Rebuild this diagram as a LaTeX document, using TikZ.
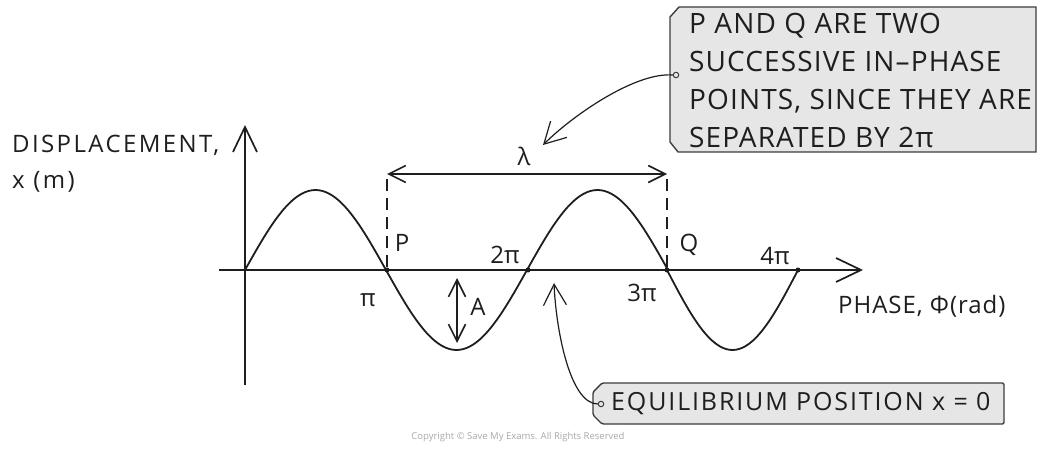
\documentclass[tikz,border=0pt]{standalone}
\usepackage{fontspec}
\setmainfont{Open Sans}
\usetikzlibrary{arrows.meta,positioning,calc}
\definecolor{ink}{HTML}{1E1E1E}
\definecolor{tagfill}{HTML}{E6E6E6}
\definecolor{tagedge}{HTML}{3C3C3C}
\definecolor{notegrey}{HTML}{A8A8A8}

\begin{document}
\begin{tikzpicture}[x=1pt, y=-1pt,
    every node/.style={font=\fontsize{24}{30}\selectfont, text=ink, inner sep=0pt},
    axistext/.style={font=\fontsize{24}{30}\selectfont\addfontfeature{LetterSpace=10}},
    axisarrow/.style={line width=1.7pt, ink, -{Straight Barb[length=25pt, width=24pt]}},
    wave/.style={line width=1.8pt, ink},
    guide/.style={line width=1.6pt, ink, dash pattern=on 12pt off 7pt},
    spanarrow/.style={line width=1.6pt, ink, {Straight Barb[length=17pt, width=17pt]}-{Straight Barb[length=17pt, width=17pt]}},
    pointer/.style={line width=1.2pt, ink, -{Straight Barb[length=21pt, width=23pt]}},
    tagbox/.style={line width=1.4pt, draw=tagedge, fill=tagfill},
    hole/.style={circle, draw=tagedge, fill=tagfill, line width=1pt, minimum size=5.5pt, inner sep=0pt},
    phasedot/.style={circle, fill=ink, minimum size=5pt, inner sep=0pt},
]
\useasboundingbox (0,0) rectangle (1038,454);

% Axes
\coordinate (O) at (245,270);
\coordinate (ybot) at (245,385);
\coordinate (ytop) at (245,125);
\coordinate (xleft) at (219,270);
\coordinate (xright) at (863,270);
\draw[axisarrow] (ybot) -- (ytop);
\draw[axisarrow] (xleft) -- (xright);

\node[axistext, anchor=west] (ylabel) at (12,145) {DISPLACEMENT,};
\node[axistext, anchor=west] (yunit) at (12,182) {x (m)};
\node[anchor=west, font=\fontsize{24}{30}\selectfont\addfontfeature{LetterSpace=4}] (xlabel) at (838,306) {PHASE, Φ(rad)};

% Wave
\draw[wave] plot[domain=0:540, samples=121, smooth] ({245+\x/180*141}, {270-80*sin(\x)});
\draw[wave] plot[domain=540:720, samples=41, smooth] ({667+(\x-540)/180*131}, {270-80*sin(\x)});

% Phase points
\node[phasedot] (pi1) at (387,270) {};
\node[phasedot] (pi2) at (528,270) {};
\node[phasedot] (pi3) at (667,270) {};
\node[phasedot] (pi4) at (798,270) {};

\node (lblpi1) at (368,300) {π};
\node (lblpi2) at (505,255) {2π};
\node (lblpi3) at (642,293) {3π};
\node (lblpi4) at (775,256) {4π};
\node (lblP) at (402,243) {P};
\node (lblQ) at (689,245) {Q};

% Wavelength
\coordinate (Ptop) at (387,179);
\coordinate (Qtop) at (667,179);
\draw[guide] (pi1) -- (Ptop);
\draw[guide] (pi3) -- (Qtop);
\coordinate (lamL) at (387,174);
\coordinate (lamR) at (667,174);
\draw[spanarrow] (lamL) -- (lamR);
\node (lbllam) at (524,156) {λ};

% Amplitude
\coordinate (ampT) at (457,278);
\coordinate (ampB) at (457,343);
\draw[spanarrow] (ampT) -- (ampB);
\node (lblA) at (478,307) {A};

% In-phase note
\draw[tagbox] (679,7) -- (1036,7) -- (1036,152) -- (678,152) -- (670,142) -- (670,17) -- cycle;
\node[anchor=north west, align=left, font=\fontsize{28}{38}\selectfont\addfontfeature{LetterSpace=4}] (note1) at (689,13)
    {P AND Q ARE TWO\\SUCCESSIVE IN–PHASE\\POINTS, SINCE THEY ARE\\SEPARATED BY 2π};
\node[hole] (hole1) at (676,75) {};
\coordinate (tip1) at (543,145);
\draw[pointer] (hole1.west) .. controls (635,72) and (572,116) .. (tip1);

% Equilibrium note
\draw[tagbox, rounded corners=1.5pt] (602,383) -- (1004,383) -- (1004,424) -- (602,424) -- (593,415) -- (593,392) -- cycle;
\node[anchor=west, font=\fontsize{25}{30}\selectfont\addfontfeature{LetterSpace=7.5}] (note2) at (611,404) {EQUILIBRIUM POSITION x = 0};
\node[hole] (hole2) at (601,404) {};
\coordinate (tip2) at (554,283);
\draw[pointer] (hole2.west) .. controls (570,404) and (556,330) .. (tip2);

\node[font=\fontsize{9.5}{11}\selectfont, text=notegrey] (credit) at (518,437) {Copyright © Save My Exams. All Rights Reserved};

\end{tikzpicture}
\end{document}
